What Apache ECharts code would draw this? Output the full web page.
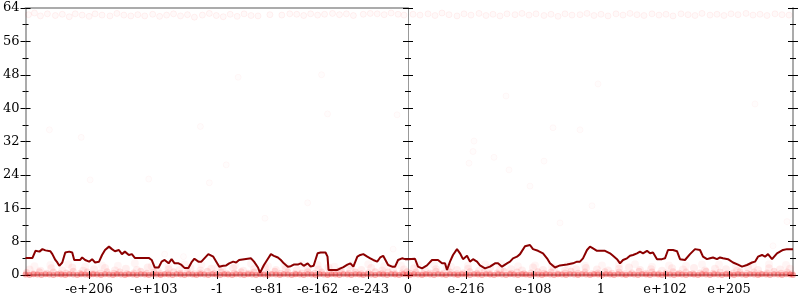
<!DOCTYPE html>
<html><head><meta charset="utf-8">
<script src="https://cdn.jsdelivr.net/npm/echarts@6/dist/echarts.min.js"></script>
<style>html,body{margin:0;padding:0;background:#fff}#c{width:800px;height:300px}</style>
</head><body><div id="c"></div>
<script>
// x domain: ordinal position across the flonum line (0..770); left half negatives, right half positives
const leftTickPos = [64, 129, 193, 243, 294, 345];
const leftTickLabels = ['-e+206', '-e+103', '-1', '-e-81', '-e-162', '-e-243'];
const rightTickPos = [385, 443, 510, 578, 642, 706];
const rightTickLabels = ['0', 'e-216', 'e-108', '1', 'e+102', 'e+205'];
const yTicks = [0, 8, 16, 24, 32, 40, 48, 56, 64];

const lineLeft = [[0,4.1],[7,4.1],[10,5.8],[14,5.6],[17,6.2],[20,5.9],[22,6.0],[25,5.7],[27,5.0],[30,3.6],[32,3.0],[34,2.2],[37,3.0],[39,4.6],[40,5.4],[44,5.6],[47,5.4],[49,3.6],[55,3.6],[57,4.2],[60,3.6],[64,3.2],[67,3.8],[70,3.0],[74,3.2],[77,4.8],[80,6.0],[84,6.8],[87,6.2],[90,5.7],[94,6.0],[97,5.0],[100,5.6],[104,4.8],[107,5.0],[110,4.1],[124,4.1],[127,3.6],[130,1.8],[134,1.8],[137,3.2],[140,3.6],[144,2.8],[147,3.8],[150,2.8],[154,2.8],[157,2.4],[160,1.7],[164,1.7],[167,3.0],[170,3.9],[174,3.2],[177,3.2],[184,5.0],[186,5.2],[189,4.4],[191,4.0],[195,2.0],[199,2.2],[202,2.3],[205,2.8],[209,3.2],[212,3.0],[215,3.6],[217,4.0],[227,4.0],[230,3.2],[234,1.8],[236,0.5],[240,2.4],[244,3.9],[247,5.0],[250,4.6],[254,4.2],[257,3.6],[260,2.8],[264,2.0],[267,2.1],[270,2.5],[274,2.5],[277,2.8],[280,2.2],[284,2.8],[287,2.0],[290,2.2],[294,5.2],[297,5.4],[302,5.4],[304,4.4],[305,1.2],[314,1.2],[317,1.6],[320,1.9],[324,2.5],[327,2.8],[330,2.0],[334,4.4],[337,4.8],[340,5.0],[344,4.4],[347,4.0],[350,3.6],[354,3.2],[357,4.2],[360,4.6],[362,5.0],[365,2.4],[369,2.0],[372,2.0],[375,3.6],[379,4.0],[382,3.8],[385,3.8]];
const lineRight = [[385,3.8],[387,4.0],[392,3.9],[395,2.0],[399,1.6],[404,2.3],[409,3.6],[415,3.6],[419,2.8],[422,2.8],[424,1.2],[427,3.2],[430,4.8],[434,6.2],[437,5.2],[440,3.8],[444,4.6],[447,3.2],[450,3.8],[454,3.2],[457,2.3],[462,1.6],[467,2.0],[472,2.8],[475,2.8],[479,2.0],[484,2.8],[487,3.2],[490,4.0],[494,4.4],[497,5.0],[502,6.9],[507,7.2],[510,6.2],[515,5.8],[520,5.2],[524,4.0],[527,2.8],[532,1.8],[537,2.3],[544,2.5],[550,2.8],[554,3.2],[557,3.2],[560,4.0],[564,6.0],[567,6.8],[570,6.4],[574,5.8],[582,5.8],[584,6.2],[587,5.2],[590,4.6],[594,3.8],[597,2.8],[600,3.6],[604,4.0],[607,4.6],[610,4.8],[614,5.2],[617,5.6],[620,5.2],[624,5.8],[627,5.2],[630,5.4],[634,3.8],[639,3.8],[642,4.0],[645,6.0],[650,6.0],[654,5.7],[657,3.8],[662,3.6],[667,5.0],[672,6.2],[677,6.0],[680,4.4],[684,3.8],[687,4.0],[690,4.2],[694,3.8],[697,4.2],[700,4.0],[705,3.8],[710,3.0],[715,2.5],[719,2.0],[724,2.4],[729,3.0],[732,3.2],[735,4.4],[739,4.8],[742,4.4],[745,5.0],[749,3.8],[754,5.2],[757,5.6],[760,6.0],[764,6.2],[770,6.2]];

const bottomBandZero = [[0,0.1],[4,0.0],[8,0.2],[12,0.1],[16,0.0],[20,0.2],[24,0.1],[28,0.0],[32,0.2],[36,0.1],[40,0.0],[44,0.2],[48,0.1],[52,0.0],[56,0.2],[60,0.1],[64,0.0],[68,0.2],[72,0.1],[76,0.0],[80,0.2],[84,0.1],[88,0.0],[92,0.2],[96,0.1],[100,0.0],[104,0.2],[108,0.1],[112,0.0],[116,0.2],[120,0.1],[124,0.0],[128,0.2],[132,0.1],[136,0.0],[140,0.2],[144,0.1],[148,0.0],[152,0.2],[156,0.1],[160,0.0],[164,0.2],[168,0.1],[172,0.0],[176,0.2],[180,0.1],[184,0.0],[188,0.2],[192,0.1],[196,0.0],[200,0.2],[204,0.1],[208,0.0],[212,0.2],[216,0.1],[220,0.0],[224,0.2],[228,0.1],[232,0.0],[236,0.2],[240,0.1],[244,0.0],[248,0.2],[252,0.1],[256,0.0],[260,0.2],[264,0.1],[268,0.0],[272,0.2],[276,0.1],[280,0.0],[284,0.2],[288,0.1],[292,0.0],[296,0.2],[300,0.1],[304,0.0],[308,0.2],[312,0.1],[316,0.0],[320,0.2],[324,0.1],[328,0.0],[332,0.2],[336,0.1],[340,0.0],[344,0.2],[348,0.1],[352,0.0],[356,0.2],[360,0.1],[364,0.0],[368,0.2],[372,0.1],[376,0.0],[380,0.2],[384,0.1],
[387,0.0],[391,0.2],[395,0.1],[399,0.0],[403,0.2],[407,0.1],[411,0.0],[415,0.2],[419,0.1],[423,0.0],[427,0.2],[431,0.1],[435,0.0],[439,0.2],[443,0.1],[447,0.0],[451,0.2],[455,0.1],[459,0.0],[463,0.2],[467,0.1],[471,0.0],[475,0.2],[479,0.1],[483,0.0],[487,0.2],[491,0.1],[495,0.0],[499,0.2],[503,0.1],[507,0.0],[511,0.2],[515,0.1],[519,0.0],[523,0.2],[527,0.1],[531,0.0],[535,0.2],[539,0.1],[543,0.0],[547,0.2],[551,0.1],[555,0.0],[559,0.2],[563,0.1],[567,0.0],[571,0.2],[575,0.1],[579,0.0],[583,0.2],[587,0.1],[591,0.0],[595,0.2],[599,0.1],[603,0.0],[607,0.2],[611,0.1],[615,0.0],[619,0.2],[623,0.1],[627,0.0],[631,0.2],[635,0.1],[639,0.0],[643,0.2],[647,0.1],[651,0.0],[655,0.2],[659,0.1],[663,0.0],[667,0.2],[671,0.1],[675,0.0],[679,0.2],[683,0.1],[687,0.0],[691,0.2],[695,0.1],[699,0.0],[703,0.2],[707,0.1],[711,0.0],[715,0.2],[719,0.1],[723,0.0],[727,0.2],[731,0.1],[735,0.0],[739,0.2],[743,0.1],[747,0.0],[751,0.2],[755,0.1],[759,0.0],[763,0.2],[767,0.1],[770,0.0]];
const bottomBandA = [[1,0.6],[8,0.3],[14,0.8],[21,0.4],[28,0.7],[35,0.3],[41,0.5],[48,0.9],[55,0.4],[62,0.7],[68,0.3],[75,0.5],[82,0.8],[89,0.4],[95,0.7],[102,0.3],[109,0.5],[116,0.9],[122,0.4],[129,0.7],[136,0.3],[143,0.5],[149,0.8],[156,0.4],[163,0.7],[170,0.3],[176,0.5],[183,0.9],[190,0.4],[197,0.7],[203,0.3],[210,0.5],[217,0.8],[224,0.4],[230,0.7],[237,0.3],[244,0.5],[251,0.9],[257,0.4],[264,0.7],[271,0.3],[278,0.5],[284,0.8],[291,0.4],[298,0.7],[305,0.3],[311,0.5],[318,0.9],[325,0.4],[332,0.7],[338,0.3],[345,0.5],[352,0.8],[359,0.4],[365,0.7],[372,0.3],[379,0.5],[384,0.8],
[387,0.4],[393,0.7],[400,0.3],[407,0.5],[413,0.9],[420,0.4],[427,0.7],[434,0.3],[440,0.5],[447,0.8],[454,0.4],[461,0.7],[467,0.3],[474,0.5],[481,0.9],[488,0.4],[494,0.7],[501,0.3],[508,0.5],[515,0.8],[521,0.4],[528,0.7],[535,0.3],[542,0.5],[548,0.9],[555,0.4],[562,0.7],[569,0.3],[575,0.5],[582,0.8],[589,0.4],[596,0.7],[602,0.3],[609,0.5],[616,0.9],[623,0.4],[629,0.7],[636,0.3],[643,0.5],[650,0.8],[656,0.4],[663,0.7],[670,0.3],[677,0.5],[683,0.9],[690,0.4],[697,0.7],[704,0.3],[710,0.5],[717,0.8],[724,0.4],[731,0.7],[737,0.3],[744,0.5],[751,0.9],[758,0.4],[764,0.7],[769,0.3]];
const bottomBandB = [[4,1.3],[15,1.0],[26,1.6],[37,1.1],[47,1.8],[58,1.0],[69,1.4],[80,1.7],[90,1.1],[101,1.5],[112,1.2],[123,1.8],[133,1.0],[144,1.4],[155,1.2],[166,1.7],[176,1.1],[187,1.5],[198,1.3],[209,1.6],[219,1.0],[230,1.4],[241,1.8],[252,1.2],[262,1.5],[273,1.1],[284,1.6],[295,1.3],[305,1.8],[316,1.0],[327,1.4],[338,1.2],[348,1.7],[359,1.1],[370,1.5],[381,1.3],
[391,1.6],[402,1.1],[413,1.4],[424,1.8],[434,1.2],[445,1.5],[456,1.0],[467,1.7],[477,1.3],[488,1.4],[499,1.1],[510,1.8],[520,1.2],[531,1.6],[542,1.0],[553,1.4],[563,1.7],[574,1.3],[585,1.1],[596,1.5],[606,1.8],[617,1.2],[628,1.4],[639,1.0],[649,1.6],[660,1.3],[671,1.7],[682,1.1],[692,1.5],[703,1.4],[714,1.0],[725,1.8],[735,1.2],[746,1.6],[757,1.3],[767,1.5]];
const bottomBandC = [[9,2.1],[25,2.4],[43,2.6],[60,2.0],[77,2.3],[93,2.2],[110,2.8],[127,2.1],[144,2.2],[160,2.5],[177,2.5],[194,2.0],[211,2.3],[227,2.7],[244,2.1],[261,2.2],[278,2.6],[294,2.4],[311,2.0],[328,2.3],[345,2.6],[361,2.1],[378,2.2],
[395,2.4],[411,2.5],[428,2.0],[445,2.2],[462,2.6],[478,2.7],[495,2.1],[512,2.3],[529,2.0],[545,2.4],[562,2.2],[579,2.3],[596,2.6],[612,2.6],[629,2.0],[646,2.3],[663,2.2],[679,2.5],[696,2.5],[713,2.1],[730,2.3],[746,2.6],[763,2.4]];
const topBand = [[3,62.4],[9,62.8],[15,62.1],[22,62.6],[30,62.2],[37,62.5],[44,61.9],[50,62.6],[57,62.3],[64,62.0],[70,62.6],[77,62.3],[85,62.1],[92,62.7],[99,62.3],[106,62.1],[113,62.4],[120,62.1],[128,62.5],[135,62.0],[142,62.3],[149,62.6],[156,62.1],[163,62.4],[170,61.8],[178,62.3],[185,62.7],[192,62.2],[199,61.9],[206,62.5],[213,62.0],[220,62.6],[227,62.2],[234,62.1],[246,62.4],[258,62.3],[266,62.6],[273,62.5],[280,62.2],[287,62.6],[294,62.3],[301,62.5],[309,62.7],[316,62.4],[323,62.6],[330,62.2],[340,62.5],[347,62.7],[354,62.6],[361,62.4],[368,62.8],[375,62.5],[381,62.3],
[390,62.5],[397,62.3],[405,62.6],[412,62.2],[419,62.8],[426,62.4],[434,62.1],[441,62.6],[448,62.3],[456,62.7],[463,62.2],[470,62.5],[477,62.1],[484,62.6],[492,62.4],[499,62.7],[506,62.3],[513,62.6],[521,62.2],[528,62.5],[535,62.0],[542,62.6],[549,62.3],[557,62.4],[564,62.7],[571,62.2],[578,62.5],[585,62.1],[593,62.6],[600,62.3],[607,62.7],[614,62.4],[621,62.2],[629,62.6],[636,62.3],[643,62.5],[650,62.1],[658,62.6],[665,62.4],[672,62.2],[679,62.7],[687,62.3],[694,62.5],[701,62.2],[708,62.6],[715,62.4],[723,62.7],[730,62.3],[737,62.5],[744,62.2],[752,62.6],[759,62.4],[766,62.3]];
const strayPoints = [[24,34.8],[56,33.0],[176,35.6],[214,47.4],[298,48.0],[304,38.6],[374,38.4],[65,22.8],[124,23.0],[185,22.1],[202,26.4],[284,17.3],[241,13.6],[140,5.0],[159,4.4],[370,6.2],
[450,29.6],[446,26.8],[471,28.2],[486,25.2],[521,27.3],[507,21.3],[569,16.6],[537,12.5],[764,12.8],[750,7.0],[451,32.1],[483,42.9],[530,35.3],[557,34.8],[575,45.8],[732,41.0]];

const MID = 385;
const FONT = {fontFamily: 'DejaVu Serif', fontSize: 13, color: '#000'};
const GRAY = '#ababab';

function xAxesFor(gi, min, max, pos, labels) {
  return [
    {gridIndex: gi, type: 'value', position: 'bottom', min: min, max: max,
     axisLine: {show: true, lineStyle: {color: GRAY, width: 2}},
     axisTick: {show: true, customValues: pos, inside: false, length: 4, lineStyle: {color: '#000', width: 1}},
     axisLabel: Object.assign({show: true, customValues: pos, margin: 8,
       formatter: v => { const i = pos.indexOf(v); return i >= 0 ? labels[i] : ''; }}, FONT),
     splitLine: {show: false}},
    {gridIndex: gi, type: 'value', position: 'bottom', min: min, max: max,
     axisLine: {show: false},
     axisTick: {show: true, customValues: pos, inside: true, length: 4, lineStyle: {color: '#000', width: 1}},
     axisLabel: {show: false}, splitLine: {show: false}, z: 10},
    {gridIndex: gi, type: 'value', position: 'top', min: min, max: max,
     axisLine: {show: true, lineStyle: {color: GRAY, width: 2}},
     axisTick: {show: false}, axisLabel: {show: false}, splitLine: {show: false}}
  ];
}
function yAxisPair(gi, position, lineW, lineC, showLabel) {
  const base = {gridIndex: gi, type: 'value', position: position, min: 0, max: 64, interval: 8,
    splitLine: {show: false}};
  return [
    Object.assign({}, base, {
      axisLine: {show: true, lineStyle: {color: lineC, width: lineW}},
      axisTick: {show: true, inside: false, length: 5, lineStyle: {color: '#000', width: 1}},
      minorTick: {show: true, splitNumber: 2, length: 3, lineStyle: {color: '#000', width: 1}},
      axisLabel: Object.assign({show: showLabel, margin: 6, customValues: yTicks}, FONT)
    }),
    Object.assign({}, base, {
      axisLine: {show: false},
      axisTick: {show: true, inside: true, length: 5, lineStyle: {color: '#000', width: 1}},
      minorTick: {show: true, splitNumber: 2, length: 3, lineStyle: {color: '#000', width: 1}},
      axisLabel: {show: false}
    })
  ];
}

const topStyle = {color: 'rgba(255,0,0,0.03)', borderColor: 'rgba(255,0,0,0.07)', borderWidth: 1};
const strayStyle = {color: 'rgba(255,0,0,0.015)', borderColor: 'rgba(255,0,0,0.04)', borderWidth: 1};
const zeroStyle = {color: 'rgba(235,0,0,0.38)', borderWidth: 0};
const bandAStyle = {color: 'rgba(255,0,0,0.15)', borderWidth: 0};
const bandBStyle = {color: 'rgba(255,0,0,0.08)', borderWidth: 0};
const bandCStyle = {color: 'rgba(255,0,0,0.05)', borderWidth: 0};

function scatterSeries(data, xi, yi, style, size) {
  return {type: 'scatter', xAxisIndex: xi, yAxisIndex: yi, data: data, symbol: 'circle',
    symbolSize: size, itemStyle: style, clip: true, silent: true, z: 2};
}
const L = d => d.filter(p => p[0] <= MID);
const R = d => d.filter(p => p[0] > MID);

const series = [];
[[bottomBandC, bandCStyle, 8], [bottomBandB, bandBStyle, 8], [bottomBandA, bandAStyle, 7], [bottomBandZero, zeroStyle, 6], [topBand, topStyle, 6], [strayPoints, strayStyle, 6]].forEach(([d, st, sz]) => {
  series.push(scatterSeries(L(d), 0, 0, st, sz));
  series.push(scatterSeries(R(d), 3, 2, st, sz));
});
series.push({type: 'line', xAxisIndex: 0, yAxisIndex: 0, data: lineLeft, showSymbol: false,
  lineStyle: {color: '#8b0000', width: 2}, itemStyle: {color: '#8b0000'}, z: 5, silent: true});
series.push({type: 'line', xAxisIndex: 3, yAxisIndex: 2, data: lineRight, showSymbol: false,
  lineStyle: {color: '#8b0000', width: 2}, itemStyle: {color: '#8b0000'}, z: 5, silent: true});

const chart = echarts.init(document.getElementById('c'), null, {renderer: 'canvas'});
chart.setOption({
  animation: false,
  backgroundColor: '#fff',
  grid: [
    {left: 23, top: 8, width: 385, height: 267},
    {left: 408, top: 8, width: 385, height: 267}
  ],
  xAxis: [].concat(xAxesFor(0, 0, MID, leftTickPos, leftTickLabels), xAxesFor(1, MID, 770, rightTickPos, rightTickLabels)),
  yAxis: [].concat(yAxisPair(0, 'left', 2, GRAY, true), yAxisPair(1, 'left', 1, '#999', false), yAxisPair(1, 'right', 2, GRAY, false)),
  series: series
});
</script>
</body></html>
